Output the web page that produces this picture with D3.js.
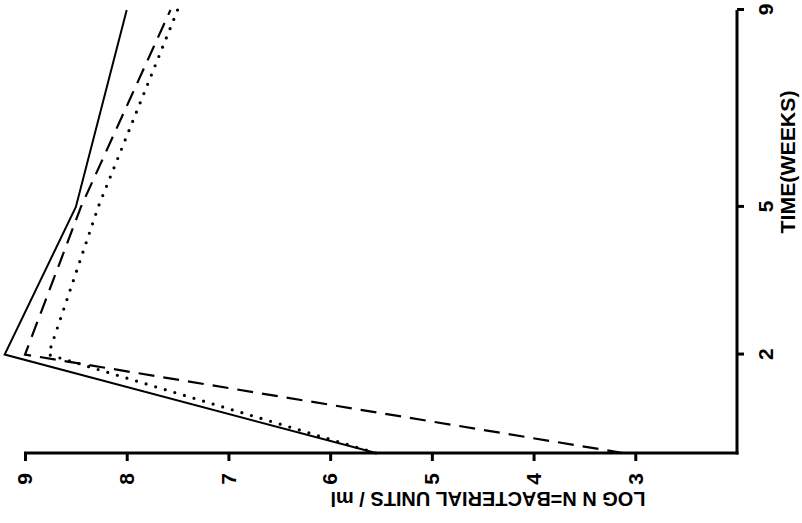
<!DOCTYPE html>
<html><head><meta charset="utf-8">
<script src="https://cdn.jsdelivr.net/npm/d3@7"></script>
<style>body{margin:0;background:#fff}svg{display:block}</style>
</head><body><svg id="c" width="802" height="523"></svg>
<script>
// Data (time in weeks, LOG N values)
const weeks = [0, 2, 5, 9];
const solidLogN = [5.55, 9.2, 8.5, 8.0];
const dashedLogN = [3.12, 9.0, 8.45, 7.57];
const dottedLogN = [5.55, 8.77, 8.28, 7.5];
const timeTicks = [2, 5, 9];
const logTicks = [3, 4, 5, 6, 7, 8, 9];
const timeLabel = "TIME(WEEKS)";
const logLabel = "LOG N  N=BACTERIAL UNITS / ml";

const W = 802, H = 523;
const svg = d3.select("#c");
// The whole chart is drawn upright, then rotated 90° counter-clockwise
const g = svg.append("g").attr("transform", `translate(0,${H}) rotate(-90)`);

const x = d3.scaleLinear().domain([0, 9]).range([70, 513]);
const y = d3.scaleLinear().domain([2, 9]).range([737, 25]);

const font = "'Liberation Sans', Arial, sans-serif";

// time axis (appears at right)
const xa = g.append("g").attr("transform", `translate(0,${y(2)})`)
  .call(d3.axisBottom(x).tickValues(timeTicks).tickSize(7).tickSizeOuter(0).tickPadding(14).tickFormat(d3.format("d")));
// log N axis (appears at bottom)
const ya = g.append("g").attr("transform", `translate(${x(0)},0)`)
  .call(d3.axisLeft(y).tickValues(logTicks).tickSize(8).tickSizeOuter(0).tickPadding(12).tickFormat(d3.format("d")));
[xa, ya].forEach(a => {
  a.select(".domain").attr("stroke", "#000").attr("stroke-width", 3);
  a.selectAll(".tick line").attr("stroke", "#000").attr("stroke-width", 3);
  a.selectAll(".tick text").attr("fill", "#000").attr("font-family", font)
    .attr("font-weight", "bold").attr("font-size", 21);
});
// extend axis lines slightly to meet at the corner
ya.select(".domain").attr("d", `M0,${y(9) - 1}V${y(2) + 1.5}`);
xa.select(".domain").attr("d", `M${x(0) - 1.5},0H${x(9)}`);

const line = d3.line().x((d, i) => x(weeks[i])).y(d => y(d));

g.append("path").datum(solidLogN).attr("d", line)
  .attr("fill", "none").attr("stroke", "#000").attr("stroke-width", 2);
g.append("path").datum(dashedLogN).attr("d", line)
  .attr("fill", "none").attr("stroke", "#000").attr("stroke-width", 2.2)
  .attr("stroke-dasharray", "16,9");
g.append("path").datum(dottedLogN).attr("d", line)
  .attr("fill", "none").attr("stroke", "#000").attr("stroke-width", 3.2)
  .attr("stroke-linecap", "round").attr("stroke-dasharray", "0,10");

// axis titles
g.append("text").attr("x", 361).attr("y", 795)
  .attr("text-anchor", "middle").attr("font-family", font).attr("font-weight", "bold")
  .attr("font-size", 20).attr("textLength", 143).attr("lengthAdjust", "spacingAndGlyphs")
  .text(timeLabel);
g.append("text").attr("transform", "translate(31,488) rotate(-90)")
  .attr("text-anchor", "middle").attr("font-family", font).attr("font-weight", "bold")
  .attr("font-size", 20).attr("textLength", 315).attr("lengthAdjust", "spacingAndGlyphs")
  .text(logLabel);
</script></body></html>
